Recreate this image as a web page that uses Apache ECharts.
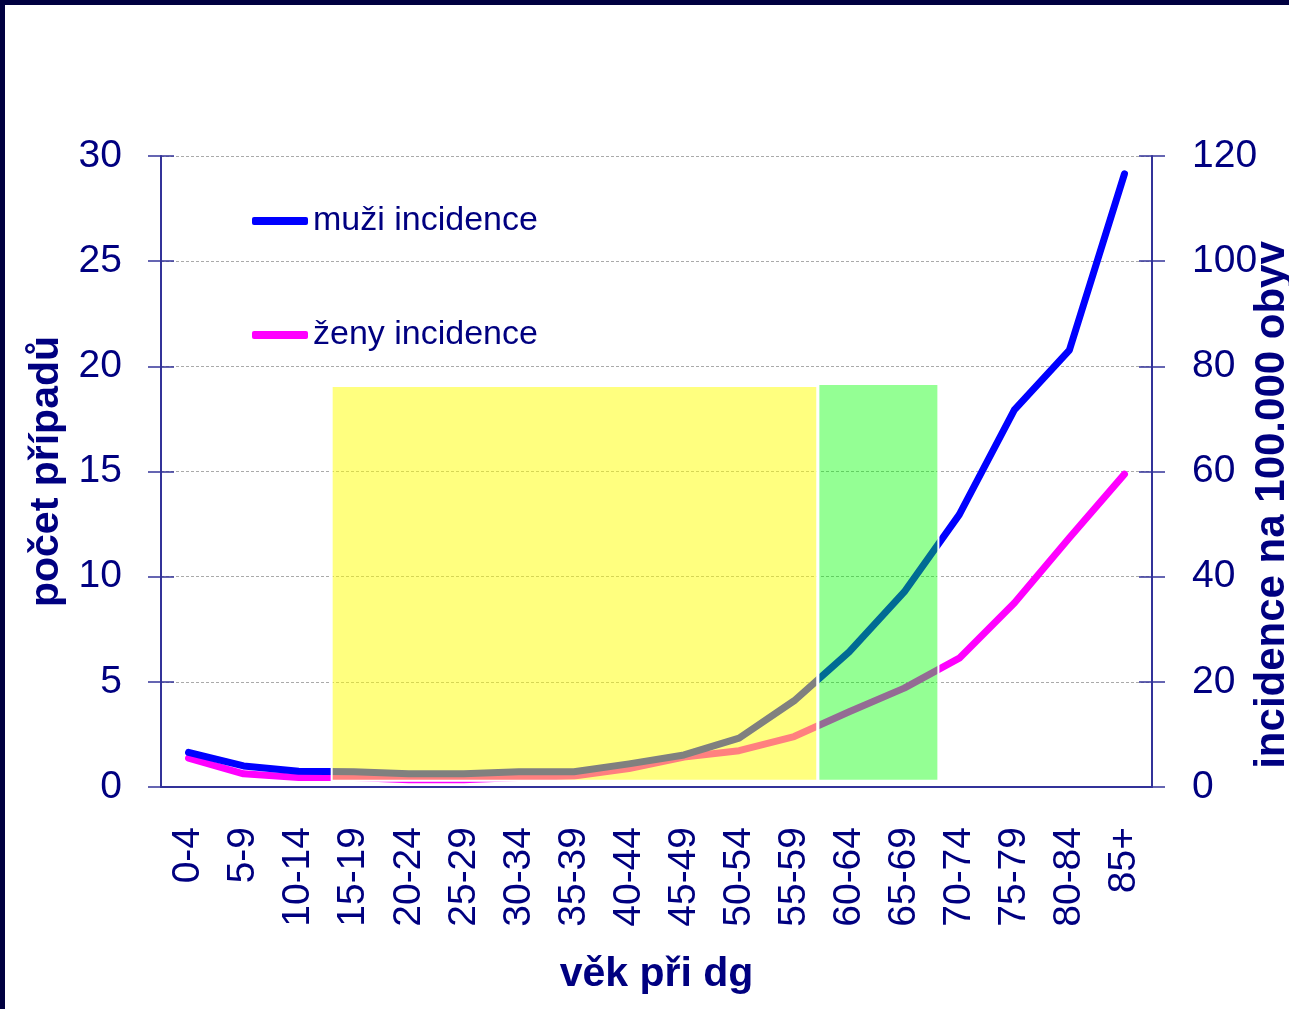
<!DOCTYPE html>
<html>
<head>
<meta charset="utf-8">
<script src="https://cdn.jsdelivr.net/npm/echarts@6/dist/echarts.min.js"></script>
<style>
  html, body { margin: 0; padding: 0; background: #fff; }
  #chart { position: absolute; left: 0; top: 0; width: 1289px; height: 1009px; }
  .band { position: absolute; background: #000040; }
</style>
</head>
<body>
<div id="chart"></div>
<div class="band" style="left:0;top:0;width:1289px;height:5px;"></div>
<div class="band" style="left:0;top:0;width:5px;height:1009px;"></div>
<script>
// age groups at diagnosis
const ageGroups = ['0-4', '5-9', '10-14', '15-19', '20-24', '25-29', '30-34', '35-39', '40-44',
  '45-49', '50-54', '55-59', '60-64', '65-69', '70-74', '75-79', '80-84', '85+'];
// incidence per 100 000 (right axis)
const menIncidence = [6.6, 4.0, 3.0, 2.9, 2.5, 2.5, 2.9, 2.9, 4.4, 6.1, 9.3, 16.4, 25.7, 37.1, 51.8, 71.7, 83.1, 116.6];
const womenIncidence = [5.5, 2.5, 1.8, 1.8, 1.4, 1.4, 1.8, 2.1, 3.5, 5.7, 6.9, 9.6, 14.3, 18.8, 24.5, 35.0, 47.4, 59.5];
// highlighted age windows: [from, to] on category index scale, [bottom, top] on left axis
const yellowZone = [2.6, 11.42, 0.3, 19.07];
const greenZone = [11.44, 13.62, 0.3, 19.16];

const navy = '#000080';
const axisColor = '#333399';
const font = 'Arial, "Liberation Sans", sans-serif';

const chart = echarts.init(document.getElementById('chart'));

function zoneArea(z, color) {
  return [
    { xAxis: z[0], yAxis: z[2], itemStyle: { color, borderColor: '#fff', borderWidth: 2 } },
    { xAxis: z[1], yAxis: z[3] },
  ];
}

const tickInside = (pos, max, interval) => ({
  type: 'value', position: pos, min: 0, max, interval,
  axisLine: { show: false, onZero: false },
  axisTick: { show: true, inside: true, length: 13, lineStyle: { color: axisColor, width: 1.5 } },
  axisLabel: { show: false },
  splitLine: { show: false },
});

const option = {
  animation: false,
  textStyle: { fontFamily: font },
  grid: { left: 161, right: 137, top: 156, bottom: 222, containLabel: false, outerBoundsMode: 'none' },
  legend: {
    data: ['muži incidence', 'ženy incidence'],
    orient: 'vertical',
    left: 252,
    top: 203,
    padding: 0,
    itemWidth: 56,
    itemHeight: 8,
    itemGap: 78,
    icon: 'roundRect',
    textStyle: { fontSize: 34, color: navy, fontFamily: font, lineHeight: 36 },
  },
  // right axis title, partly cut by the page edge as in the source slide
  graphic: [{
    type: 'text',
    x: 1272,
    y: 505,
    rotation: Math.PI / 2,
    style: {
      text: 'incidence na 100.000 obyv',
      font: 'bold 42px Arial, "Liberation Sans", sans-serif',
      fill: navy,
      align: 'center',
      verticalAlign: 'middle',
    },
  }],
  xAxis: [{
    type: 'category',
    data: ageGroups,
    position: 'bottom',
    boundaryGap: true,
    axisLine: { onZero: false, lineStyle: { color: axisColor, width: 2 } },
    axisTick: { length: 14, lineStyle: { color: axisColor, width: 1.5 } },
    axisLabel: { rotate: 90, fontSize: 39, color: navy, margin: 40, fontFamily: font },
    name: 'věk při dg',
    nameLocation: 'middle',
    nameGap: 167,
    nameTextStyle: { fontSize: 41, fontWeight: 'bold', color: navy, fontFamily: font },
  }, {
    type: 'category',
    data: ageGroups,
    position: 'bottom',
    boundaryGap: true,
    axisLine: { show: false, onZero: false },
    axisTick: { inside: true, length: 14, lineStyle: { color: axisColor, width: 1.5 } },
    axisLabel: { show: false },
  }, {
    type: 'value',
    min: -0.5,
    max: 17.5,
    show: false,
  }],
  yAxis: [{
    type: 'value',
    position: 'left',
    min: 0, max: 30, interval: 5,
    axisLine: { show: true, onZero: false, lineStyle: { color: axisColor, width: 2 } },
    axisTick: { show: true, length: 13, lineStyle: { color: axisColor, width: 1.5 } },
    axisLabel: { fontSize: 39, color: navy, margin: 39, fontFamily: font },
    splitLine: { lineStyle: { color: '#aaaaaa', type: [3, 2], width: 1 } },
    name: 'počet případů',
    nameLocation: 'middle',
    nameRotate: 90,
    nameGap: 94,
    nameTextStyle: { fontSize: 41, fontWeight: 'bold', color: navy, fontFamily: font },
  }, {
    type: 'value',
    position: 'right',
    min: 0, max: 120, interval: 20,
    axisLine: { show: true, onZero: false, lineStyle: { color: axisColor, width: 2 } },
    axisTick: { show: true, length: 13, lineStyle: { color: axisColor, width: 1.5 } },
    axisLabel: { fontSize: 39, color: navy, margin: 40, fontFamily: font },
    splitLine: { show: false },
  },
  tickInside('left', 30, 5),
  tickInside('right', 120, 20)],
  series: [{
    name: 'ženy incidence',
    type: 'line',
    xAxisIndex: 0,
    yAxisIndex: 1,
    data: womenIncidence,
    color: '#FF00FF',
    symbol: 'none',
    lineStyle: { width: 7, cap: 'round', join: 'round' },
    z: 2,
  }, {
    name: 'muži incidence',
    type: 'line',
    xAxisIndex: 0,
    yAxisIndex: 1,
    data: menIncidence,
    color: '#0000FF',
    symbol: 'none',
    lineStyle: { width: 7, cap: 'round', join: 'round' },
    z: 3,
  }, {
    name: 'zones',
    type: 'line',
    xAxisIndex: 2,
    yAxisIndex: 0,
    data: [],
    silent: true,
    z: 10,
    markArea: {
      silent: true,
      z: 10,
      data: [
        zoneArea(yellowZone, 'rgba(255,255,0,0.5)'),
        zoneArea(greenZone, 'rgba(0,255,0,0.42)'),
      ],
    },
  }],
};

chart.setOption(option);
</script>
</body>
</html>
